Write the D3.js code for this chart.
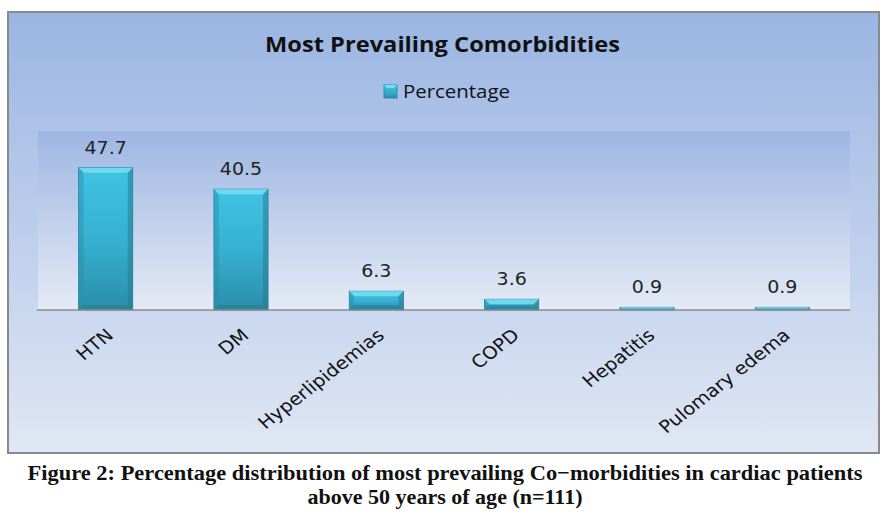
<!DOCTYPE html>
<html>
<head>
<meta charset="utf-8">
<script src="https://cdn.jsdelivr.net/npm/d3@7"></script>
<style>
  body { margin: 0; background: #fff; }
  svg { display: block; }
</style>
</head>
<body>
<svg width="892" height="529"></svg>
<script>
var categories = ["HTN", "DM", "Hyperlipidemias", "COPD", "Hepatitis", "Pulomary edema"];
var percentages = [47.7, 40.5, 6.3, 3.6, 0.9, 0.9];
var yDomain = [0, 60];
var chartTitle = "Most Prevailing Comorbidities";
var seriesName = "Percentage";
var captionLines = [
	"Figure 2: Percentage distribution of most prevailing Co\u2212morbidities in cardiac patients",
	"above 50 years of age (n=111)"
];

// the picture is a bit wider than tall text would be, so text is stretched
var stretch = 1.12;

var svg = d3.select("svg");
var defs = svg.append("defs");

function vGrad(id, stops) {
	var g = defs.append("linearGradient").attr("id", id)
		.attr("x1", 0).attr("y1", 0).attr("x2", 0).attr("y2", 1);
	stops.forEach(function (s) {
		g.append("stop").attr("offset", s[0]).attr("stop-color", s[1]);
	});
}
vGrad("outerBg", [[0, "#9ab5e3"], [1, "#e0e7f4"]]);
vGrad("plotBg", [[0, "#9db6e2"], [1, "#e4eaf5"]]);
vGrad("barBody", [[0, "#3fc3e4"], [0.5, "#37b0d0"], [1, "#2a8ea9"]]);

// outer frame
svg.append("rect")
	.attr("x", 8).attr("y", 12)
	.attr("width", 871).attr("height", 441)
	.attr("fill", "url(#outerBg)")
	.attr("stroke", "#8a8a8a").attr("stroke-width", 2);

var plot = { left: 38, right: 850, top: 131, bottom: 310 };

svg.append("rect")
	.attr("x", plot.left).attr("y", plot.top)
	.attr("width", plot.right - plot.left).attr("height", plot.bottom - plot.top)
	.attr("fill", "url(#plotBg)");

// title
svg.append("text")
	.attr("x", 265).attr("y", 52)
	.attr("font-family", "'Open Sans', sans-serif")
	.attr("font-weight", "bold")
	.attr("font-size", 20.5)
	.attr("textLength", 355)
	.attr("lengthAdjust", "spacingAndGlyphs")
	.attr("fill", "#111")
	.text(chartTitle);

// legend
var legend = svg.append("g").attr("transform", "translate(384,85)");
legend.append("rect")
	.attr("width", 13).attr("height", 13)
	.attr("fill", "url(#barBody)")
	.attr("stroke", "#2a7f95").attr("stroke-width", 0.8);
legend.append("path")
	.attr("d", "M0,0H13L10,3H3Z")
	.attr("fill", "#74dcf2");
legend.append("text")
	.attr("x", 19).attr("y", 13)
	.attr("font-family", "'Open Sans', sans-serif")
	.attr("font-size", 18)
	.attr("textLength", 107)
	.attr("lengthAdjust", "spacingAndGlyphs")
	.attr("fill", "#111")
	.text(seriesName);

var x = d3.scaleBand()
	.domain(categories)
	.range([plot.left, plot.right])
	.paddingInner(0.6)
	.paddingOuter(0.3);

var y = d3.scaleLinear()
	.domain(yDomain)
	.range([plot.bottom, plot.top]);

var data = categories.map(function (c, i) { return { cat: c, value: percentages[i] }; });

var bars = svg.append("g").selectAll("g")
	.data(data)
	.enter()
	.append("g");

bars.append("rect")
	.attr("x", function (d) { return x(d.cat); })
	.attr("y", function (d) { return y(d.value); })
	.attr("width", x.bandwidth())
	.attr("height", function (d) { return y(0) - y(d.value); })
	.attr("fill", "url(#barBody)")
	.attr("stroke", "#2a8199").attr("stroke-width", 0.8);

// bevel on top of each bar
bars.append("path")
	.attr("fill", "#74dcf2")
	.attr("opacity", 0.9)
	.attr("d", function (d) {
		var x0 = x(d.cat), x1 = x0 + x.bandwidth();
		var top = y(d.value), h = y(0) - top;
		var b = Math.min(5, h / 2);
		return "M" + x0 + "," + top + "L" + x1 + "," + top +
			"L" + (x1 - b) + "," + (top + b) + "L" + (x0 + b) + "," + (top + b) + "Z";
	});

// darker right side and bottom bevel
bars.append("path")
	.attr("fill", "#23788f")
	.attr("opacity", 0.5)
	.attr("d", function (d) {
		var x0 = x(d.cat), x1 = x0 + x.bandwidth();
		var top = y(d.value), bot = y(0), h = bot - top;
		var b = Math.min(5, h / 2);
		return "M" + x1 + "," + top + "L" + x1 + "," + bot + "L" + x0 + "," + bot +
			"L" + (x0 + b) + "," + (bot - b) + "L" + (x1 - b) + "," + (bot - b) +
			"L" + (x1 - b) + "," + (top + b) + "Z";
	});

// left bevel
bars.append("path")
	.attr("fill", "#2a8ea9")
	.attr("opacity", 0.45)
	.attr("d", function (d) {
		var x0 = x(d.cat);
		var top = y(d.value), bot = y(0), h = bot - top;
		var b = Math.min(5, h / 2);
		return "M" + x0 + "," + top + "L" + (x0 + b) + "," + (top + b) +
			"L" + (x0 + b) + "," + (bot - b) + "L" + x0 + "," + bot + "Z";
	});

// value labels
bars.append("text")
	.attr("transform", function (d) {
		return "translate(" + (x(d.cat) + x.bandwidth() / 2) + "," + (y(d.value) - 14) + ") scale(" + stretch + ",1)";
	})
	.attr("text-anchor", "middle")
	.attr("font-family", "'DejaVu Sans', Verdana, sans-serif")
	.attr("font-size", 17)
	.attr("fill", "#222")
	.text(function (d) { return d.value.toFixed(1); });

// x axis
var xAxis = svg.append("g")
	.attr("transform", "translate(0," + plot.bottom + ")")
	.call(d3.axisBottom(x).tickSize(0).tickPadding(0));

xAxis.select(".domain")
	.attr("d", "M" + (plot.left - 1) + ",0H" + plot.right)
	.attr("stroke", "#8c8c8c").attr("stroke-width", 1.5);

xAxis.selectAll(".tick text")
	.attr("font-family", "'DejaVu Sans', Verdana, sans-serif")
	.attr("font-size", 17.5)
	.attr("fill", "#111")
	.attr("text-anchor", "end")
	.attr("y", 0)
	.attr("dy", 0)
	.attr("transform", "translate(9,27) scale(" + stretch + ",1) rotate(-41)");

// caption
svg.append("g").selectAll("text")
	.data(captionLines)
	.enter()
	.append("text")
	.attr("x", 445)
	.attr("y", function (d, i) { return 480 + i * 24; })
	.attr("text-anchor", "middle")
	.attr("font-family", "'Liberation Serif', serif")
	.attr("font-weight", "bold")
	.attr("font-size", 22)
	.attr("textLength", function (d, i) { return i === 0 ? 835 : 275; })
	.attr("lengthAdjust", "spacingAndGlyphs")
	.attr("fill", "#111")
	.text(function (d) { return d; });
</script>
</body>
</html>
